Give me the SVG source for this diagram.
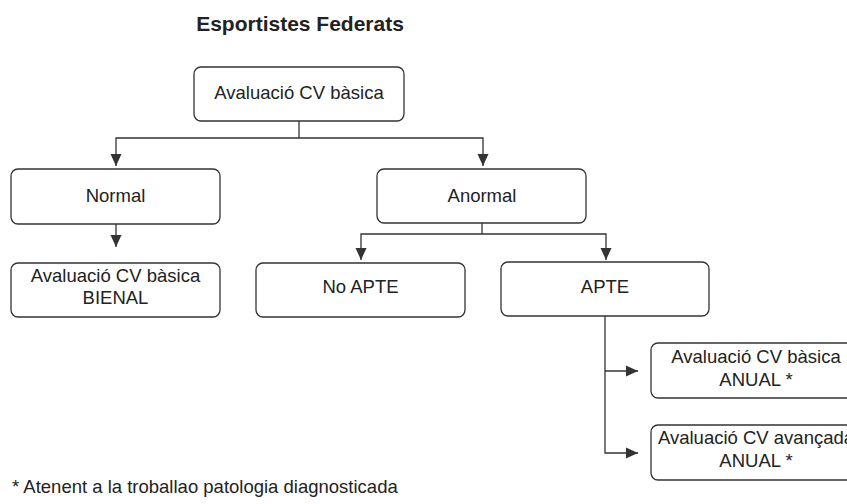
<svg xmlns="http://www.w3.org/2000/svg" width="847" height="504" viewBox="0 0 847 504">
<style>
.box{fill:#fff;stroke:#333;stroke-width:1.3}
.t{font-family:"Liberation Sans",Arial,sans-serif;font-size:18.5px;fill:#222;text-anchor:middle}
.c{fill:none;stroke:#333;stroke-width:1.3}
</style>
<defs>
<marker id="ah" markerUnits="userSpaceOnUse" markerWidth="12" markerHeight="12" viewBox="0 0 12 12" refX="12" refY="6" orient="auto">
<path d="M0,0.5 L12,6 L0,11.5 Z" fill="#333"/>
</marker>
</defs>
<rect width="847" height="504" fill="#fff"/>
<text x="300" y="31" style="font-family:'Liberation Sans',Arial,sans-serif;font-size:21px;font-weight:bold;fill:#222;text-anchor:middle">Esportistes Federats</text>
<g id="connectors">
<path class="c" d="M299,121 V138"/>
<path class="c" d="M299,138 H116 V166" marker-end="url(#ah)"/>
<path class="c" d="M299,138 H483 V166" marker-end="url(#ah)"/>
<path class="c" d="M116,224 V247" marker-end="url(#ah)"/>
<path class="c" d="M482,223 V234"/>
<path class="c" d="M482,234 H361 V260" marker-end="url(#ah)"/>
<path class="c" d="M482,234 H606 V260" marker-end="url(#ah)"/>
<path class="c" d="M605,316 V453 H638" marker-end="url(#ah)"/>
<path class="c" d="M605,371 H638" marker-end="url(#ah)"/>
</g>
<g id="n-top"><rect class="box" x="194" y="67" width="210" height="54" rx="7"/><text class="t" x="299" y="99">Avaluació CV bàsica</text></g>
<g id="n-normal"><rect class="box" x="11" y="169" width="209" height="55" rx="7"/><text class="t" x="115.5" y="202">Normal</text></g>
<g id="n-anormal"><rect class="box" x="377" y="169" width="209" height="54" rx="7"/><text class="t" x="482" y="202">Anormal</text></g>
<g id="n-bienal"><rect class="box" x="11" y="263" width="209" height="54" rx="7"/><text class="t" x="115.5" y="282">Avaluació CV bàsica</text><text class="t" x="115.5" y="304">BIENAL</text></g>
<g id="n-noapte"><rect class="box" x="256" y="263" width="209" height="54" rx="7"/><text class="t" x="360.5" y="293">No APTE</text></g>
<g id="n-apte"><rect class="box" x="501" y="262" width="208" height="54" rx="7"/><text class="t" x="605" y="293">APTE</text></g>
<g id="n-basica"><rect class="box" x="651" y="343" width="210" height="55" rx="7"/><text class="t" x="756" y="363">Avaluació CV bàsica</text><text class="t" x="756" y="386">ANUAL *</text></g>
<g id="n-avancada"><rect class="box" x="651" y="425" width="210" height="55" rx="7"/><text class="t" x="756" y="444">Avaluació CV avançada</text><text class="t" x="756" y="467">ANUAL *</text></g>
<text x="12" y="493" style="font-family:'Liberation Sans',Arial,sans-serif;font-size:18.5px;fill:#222">* Atenent a la troballao patologia diagnosticada</text>
</svg>
